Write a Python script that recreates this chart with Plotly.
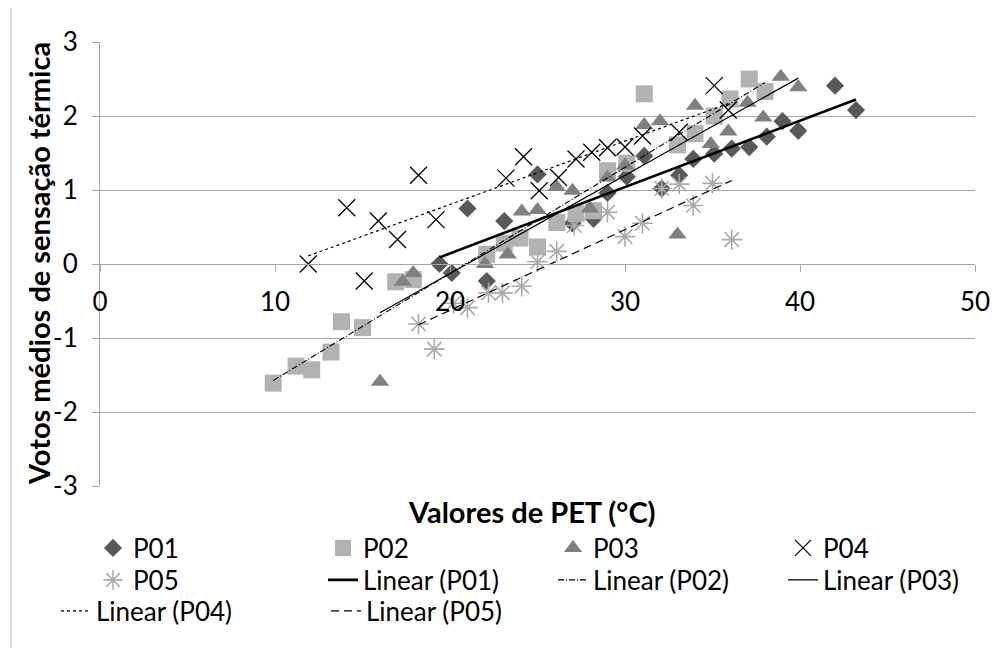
import numpy as np
import plotly.graph_objects as go

# ---------------- data ----------------
p01_x = [19.4, 20.1, 21.0, 22.1, 23.1, 25.0, 27.0, 28.2, 29.0, 30.1, 31.1, 32.1, 33.1, 33.9,
         35.1, 36.1, 37.1, 38.1, 39.0, 39.9, 42.0, 43.2]
p01_y = [0.00, -0.12, 0.75, -0.23, 0.58, 1.21, 0.55, 0.61, 0.96, 1.18, 1.46, 1.02, 1.20, 1.42,
         1.49, 1.56, 1.58, 1.72, 1.93, 1.80, 2.41, 2.08]

p02_x = [9.9, 11.2, 12.1, 13.2, 13.8, 15.0, 16.9, 17.9, 22.1, 23.1, 24.0, 25.0, 26.1, 27.2,
         28.2, 29.0, 30.1, 31.1, 33.0, 34.0, 35.1, 36.0, 37.1, 38.0]
p02_y = [-1.61, -1.38, -1.43, -1.19, -0.78, -0.86, -0.24, -0.21, 0.13, 0.28, 0.35, 0.23, 0.56, 0.68,
         0.72, 1.26, 1.36, 2.30, 1.61, 1.76, 2.00, 2.23, 2.50, 2.33]

p03_x = [16.0, 17.3, 17.9, 22.0, 23.3, 24.1, 25.0, 26.1, 27.0, 28.0, 29.0, 30.0, 31.1, 32.0,
         33.0, 34.0, 34.9, 35.9, 37.0, 37.9, 38.9, 39.9]
p03_y = [-1.59, -0.24, -0.12, 0.00, 0.13, 0.71, 0.73, 1.04, 0.99, 0.75, 1.17, 1.33, 1.88, 1.93,
         0.40, 2.14, 1.62, 1.79, 2.18, 1.98, 2.53, 2.39]

p04_x = [11.9, 14.1, 15.1, 15.9, 17.0, 18.2, 19.2, 23.2, 24.2, 25.1, 26.2, 27.2, 28.1, 29.0,
         30.0, 31.0, 33.1, 35.1, 35.9]
p04_y = [0.00, 0.76, -0.23, 0.58, 0.33, 1.20, 0.60, 1.16, 1.45, 0.99, 1.17, 1.42, 1.51, 1.57,
         1.58, 1.73, 1.78, 2.41, 2.08]

p05_x = [18.2, 19.1, 20.2, 21.0, 22.2, 23.0, 24.1, 25.0, 26.1, 27.1, 29.0, 30.0, 31.0, 32.1,
         33.1, 33.9, 35.0, 36.1]
p05_y = [-0.81, -1.15, -0.53, -0.59, -0.39, -0.39, -0.30, 0.03, 0.17, 0.52, 0.70, 0.37, 0.55, 1.02,
         1.08, 0.79, 1.09, 0.33]

series_names = ["P01", "P02", "P03", "P04", "P05"]
x_ticks = [0, 10, 20, 30, 40, 50]
x_tick_labels = ["0", "10", "20", "30", "40", "50"]
y_ticks = [-3, -2, -1, 0, 1, 2, 3]
y_tick_labels = ["-3", "-2", "-1", "0", "1", "2", "3"]
x_title = "Valores de PET (°C)"
y_title = "Votos médios de sensação térmica"

# ---------------- layout helpers (page pixel -> paper) ----------------
FONT = "Lato"
FS = 26
FS_TITLE = 29
W, H = 1003, 648
OFF = 8                       # default body margin of the html page
ML, MT = 100 - OFF, 42 - OFF  # plot area on the page: x 100..975, y 42..486
PW, PH = 875, 444
MR = W - ML - PW
MB = H - MT - PH


def pgx(px):
    return (px - OFF - ML) / PW


def pgy(py):
    return (H - MB - (py - OFF)) / PH


marker_styles = [
    dict(symbol="diamond", color="#595959", size=14, line=dict(width=0)),
    dict(symbol="square", color="#B2B2B2", size=17, line=dict(width=0)),
    dict(symbol="triangle-up", color="#808080", size=16, line=dict(width=0)),
    dict(symbol="x-thin-open", color="#000000", size=17, line=dict(color="#000000", width=1.3)),
    dict(symbol="asterisk-open", color="#ABABAB", size=17, line=dict(color="#ABABAB", width=1.6)),
]
line_styles = [
    dict(color="#000000", width=2.6, dash="solid"),
    dict(color="#000000", width=1.1, dash="6px,2px,1px,2px"),
    dict(color="#000000", width=1.2, dash="solid"),
    dict(color="#000000", width=1.2, dash="3px,3px"),
    dict(color="#000000", width=1.2, dash="8px,5px"),
]
# legend row for each entry (markers P01..P05, then Linear P01..P05)
marker_legend = ["legend", "legend", "legend", "legend", "legend2"]
line_legend = ["legend2", "legend2", "legend2", "legend3", "legend3"]

xs_all = [p01_x, p02_x, p03_x, p04_x, p05_x]
ys_all = [p01_y, p02_y, p03_y, p04_y, p05_y]

fig = go.Figure()
for name, xs, ys, ms, lg in zip(series_names, xs_all, ys_all, marker_styles, marker_legend):
    fig.add_trace(go.Scatter(x=xs, y=ys, mode="markers", name=name, marker=ms, legend=lg))

for name, xs, ys, ls, lg in zip(series_names, xs_all, ys_all, line_styles, line_legend):
    xa = np.asarray(xs, dtype=float)
    ya = np.asarray(ys, dtype=float)
    a, b = np.polyfit(xa, ya, 1)
    xx = np.array([xa.min(), xa.max()])
    fig.add_trace(go.Scatter(x=xx, y=a * xx + b, mode="lines",
                             name=f"Linear ({name})", line=ls, legend=lg))

GRID = "#A6A6A6"
legend_common = dict(orientation="h", xanchor="left", yanchor="middle",
                     font=dict(family=FONT, size=FS, color="#000000"),
                     bgcolor="rgba(0,0,0,0)", itemsizing="trace", traceorder="normal")

fig.update_layout(
    width=W, height=H,
    margin=dict(l=ML, r=MR, t=MT, b=MB, autoexpand=False),
    paper_bgcolor="white", plot_bgcolor="white",
    font=dict(family=FONT, size=FS, color="#000000"),
    showlegend=True,
    legend=dict(x=pgx(135 - 42), y=pgy(548), entrywidth=185, **legend_common),
    legend2=dict(x=pgx(135 - 42), y=pgy(580), entrywidth=185, **legend_common),
    legend3=dict(x=pgx(98 - 42), y=pgy(611), entrywidth=225, **legend_common),
    xaxis=dict(range=[0, 50], tickvals=x_ticks, ticktext=x_tick_labels,
               showgrid=False, zeroline=False,
               showline=True, linecolor=GRID, linewidth=1,
               ticks="outside", ticklen=7, tickcolor=GRID,
               anchor="free", position=0.5, ticklabelstandoff=8,
               tickfont=dict(family=FONT, size=FS)),
    yaxis=dict(range=[-3, 3], tickvals=y_ticks, ticktext=y_tick_labels,
               showgrid=True, gridcolor=GRID, gridwidth=1,
               zeroline=False, showline=True, linecolor=GRID, linewidth=1,
               ticks="outside", ticklen=7, tickcolor=GRID, ticklabelstandoff=9,
               tickfont=dict(family=FONT, size=FS)),
    annotations=[
        dict(text=f"<b>{x_title}</b>", xref="paper", yref="paper",
             x=pgx(532), y=pgy(511), xanchor="center", yanchor="middle",
             showarrow=False, font=dict(family=FONT, size=FS_TITLE)),
        dict(text=f"<b>{y_title}</b>", xref="paper", yref="paper", textangle=-90,
             x=pgx(38), y=pgy(264), xanchor="center", yanchor="middle",
             showarrow=False, font=dict(family=FONT, size=FS_TITLE)),
    ],
    shapes=[
        dict(type="line", xref="paper", yref="paper",
             x0=pgx(11), x1=pgx(11), y0=pgy(660), y1=pgy(8),
             line=dict(color="#BFBFBF", width=1), layer="below"),
    ],
)

fig.write_html("out.html")
